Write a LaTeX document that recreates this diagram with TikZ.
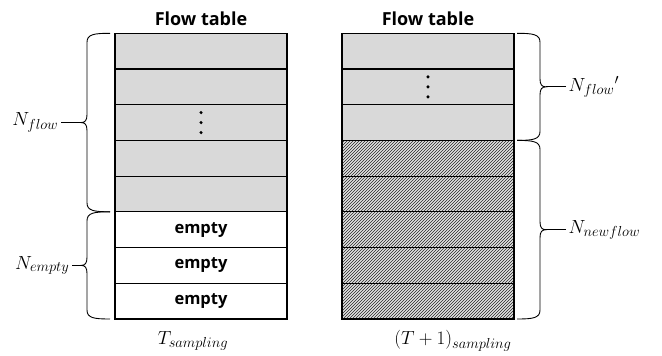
\RequirePackage{fix-cm}
\documentclass[tikz,border=0pt]{standalone}
\usepackage{fontspec}
\setsansfont{Open Sans}
\usetikzlibrary{patterns,positioning}
\DeclareMathSizes{19}{19}{14.5}{11}

\definecolor{cellgray}{HTML}{D9D9D9}
\definecolor{hatchgray}{HTML}{E2E2E2}

\tikzset{
  cell/.style={draw, line width=1.2pt, minimum width=172pt, minimum height=35.7pt,
    inner sep=0pt, outer sep=0pt, font=\sffamily\bfseries\fontsize{16.5}{20}\selectfont},
  flowcell/.style={cell, fill=cellgray},
  emptycell/.style={cell, fill=white},
  newcell/.style={cell, preaction={fill=hatchgray}, pattern=north east lines, pattern color=black!85},
  tabtitle/.style={font=\sffamily\bfseries\fontsize{18}{22}\selectfont},
  brc/.style={line width=0.9pt},
  lbl/.style={font=\fontsize{19}{21}\selectfont, inner sep=2.5pt}
}

% brace: x of the ends, top, bottom, side (1 = left, -1 = right), name of tip
\newcommand{\flowbrace}[5]{%
  \pgfmathsetmacro\bmid{(#2+#3)/2}
  \draw[brc] (#1,#2) .. controls ({#1-16*(#4)},#2) and ({#1-23*(#4)},{#2+1}) .. ({#1-23*(#4)},{#2+9})
    -- ({#1-23*(#4)},{\bmid-8}) .. controls ({#1-23*(#4)},{\bmid-2}) and ({#1-25*(#4)},\bmid) .. ({#1-29*(#4)},\bmid) coordinate (#5)
    .. controls ({#1-25*(#4)},\bmid) and ({#1-23*(#4)},{\bmid+2}) .. ({#1-23*(#4)},{\bmid+8})
    -- ({#1-23*(#4)},{#3-9}) .. controls ({#1-23*(#4)},{#3-1}) and ({#1-16*(#4)},#3) .. (#1,#3);
}

\begin{document}
\begin{tikzpicture}[x=1pt,y=-1pt]
\useasboundingbox[fill=white] (0,0) rectangle (662,356);

\node[tabtitle] (titleA) at (201,19) {Flow table};
\node[tabtitle] (titleB) at (428,19) {Flow table};

% table at T
\foreach \i in {1,...,5}
	\node[flowcell] (a\i) at (201,{33.3+35.7*(\i-0.5)}) {};
\foreach \i in {6,7,8}
	\node[emptycell] (a\i) at (201,{33.3+35.7*(\i-0.5)}) {empty};

% table at T+1
\foreach \i in {1,2,3}
	\node[flowcell] (b\i) at (428,{33.3+35.7*(\i-0.5)}) {};
\foreach \i in {4,...,8}
	\node[newcell] (b\i) at (428,{33.3+35.7*(\i-0.5)}) {};

\foreach \d in {-10,0,10} {
	\fill ([yshift=\d pt]a3.center) circle (1.7pt);
	\fill ([yshift=\d pt]b2.center) circle (1.7pt);
}

% braces
\flowbrace{110}{33.3}{211.8}{1}{tipA}
\flowbrace{110}{211.8}{319}{1}{tipB}
\flowbrace{517}{33.3}{140.4}{-1}{tipC}
\flowbrace{517}{140.4}{319}{-1}{tipD}

\node[lbl, left=20pt of tipA] (nflow) {$N_{flow}$};
\node[lbl, left=9pt of tipB] (nempty) {$N_{empty}$};
\node[lbl, right=20pt of tipC] (nflowp) {${N_{flow}}'$};
\node[lbl, right=20pt of tipD] (nnew) {$N_{newflow}$};
\draw[brc] (nflow) -- (tipA);
\draw[brc] (nempty) -- (tipB);
\draw[brc] (nflowp) -- (tipC);
\draw[brc] (nnew) -- (tipD);

\node[lbl] (tsamp) at (193,341) {$T_{sampling}$};
\node[lbl] (tsampnext) at (453,341) {$(T+1)_{sampling}$};
\end{tikzpicture}
\end{document}
